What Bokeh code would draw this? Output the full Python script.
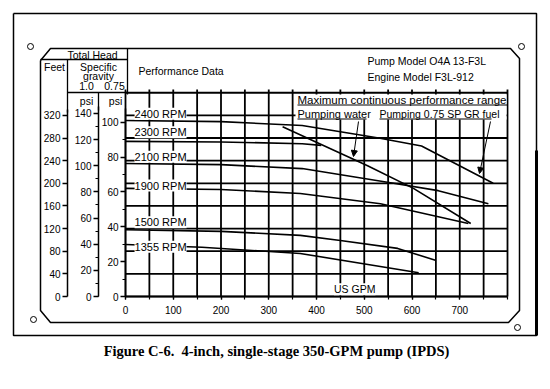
from bokeh.plotting import figure
from bokeh.models import Range1d, LinearAxis, SingleIntervalTicker, FixedTicker, Label, Arrow, NormalHead
from bokeh.core.properties import value
from bokeh.embed import file_html
from bokeh.resources import INLINE

# ---------------- data (US GPM vs total head in feet) ----------------
RPM_LABELS = ["2400 RPM", "2300 RPM", "2100 RPM", "1900 RPM", "1500 RPM", "1355 RPM"]
GPM_2400 = [0, 200, 370, 530, 620, 770]
FT_2400 = [311, 309, 302, 280, 266, 200]
GPM_2300 = [0, 200, 370, 410]
FT_2300 = [274, 273, 270, 267]
GPM_2100 = [0, 200, 370, 555, 655, 760]
FT_2100 = [235, 233, 226, 201, 187, 164]
GPM_1900 = [0, 200, 366, 534, 718]
FT_1900 = [191, 189, 182, 164, 129]
GPM_1500 = [0, 200, 366, 450, 570, 649]
FT_1500 = [118, 115, 108, 99, 85, 64]
GPM_1355 = [0, 160, 366, 614]
FT_1355 = [92, 87, 76, 42]
# maximum continuous performance limit, pumping water
GPM_WATER_LIMIT = [329, 507, 603, 723]
FT_WATER_LIMIT = [300, 231, 191, 129]
# RPM label anchor points (GPM, ft)
RPM_LABEL_GPM = [19, 19, 19, 19, 19, 19]
RPM_LABEL_FT = [323, 290, 247, 196, 131, 88]
# axis ticks
GPM_TICKS = [0, 100, 200, 300, 400, 500, 600, 700]
GPM_GRID = list(range(0, 801, 50))
FT_GRID = list(range(0, 361, 40))
FT_PER_PSI = 2.31
SG_FUEL = 0.75

# ---------------- geometry ----------------
W, H = 542, 381
X0_PX, X_SCALE = 125.0, 0.4775   # px of 0 GPM, px per GPM
Y0_PX, Y_SCALE = 296.0, 0.566    # px of 0 ft, px per ft

def gx(px):
    return (px - X0_PX) / X_SCALE

def fy(py):
    return (Y0_PX - py) / Y_SCALE

x_start, x_end = gx(0), gx(W)
y_start, y_end = fy(H), fy(0)

FONT = value("Liberation Sans")

p = figure(width=W, height=H, x_range=Range1d(x_start, x_end), y_range=Range1d(y_start, y_end),
           output_backend="svg", toolbar_location=None, min_border=0,
           x_axis_location=None, y_axis_location=None,
           background_fill_color="white", border_fill_color="white", outline_line_color=None)
p.grid.visible = False
p.extra_x_ranges = {"px": Range1d(0, W)}
p.extra_y_ranges = {"py": Range1d(H, 0),
                    "psi1": Range1d(y_start / FT_PER_PSI, y_end / FT_PER_PSI),
                    "psi075": Range1d(y_start * SG_FUEL / FT_PER_PSI, y_end * SG_FUEL / FT_PER_PSI)}

def seg(x0, y0, x1, y1, w=1.3):
    p.line(x=[x0, x1], y=[y0, y1], line_color="black", line_width=w,
           x_range_name="px", y_range_name="py")

def ptext(x, y, t, size="10.5px", align="left", bold=False, font=FONT):
    p.text(x=[x], y=[y], text=[t], text_font=font, text_font_size=size, text_align=align,
           text_baseline="middle", text_color="black", text_font_style="bold" if bold else "normal",
           x_range_name="px", y_range_name="py")

# ---------------- grid (50 GPM x 40 ft) as thin filled bars through the data scales ----------------
top_ext = fy(89)
GRID_W_PX = 1.8
p.vbar(x=GPM_GRID, bottom=FT_GRID[0], top=top_ext, width=GRID_W_PX / X_SCALE,
       fill_color="black", line_color=None)
p.hbar(y=FT_GRID, left=GPM_GRID[0], right=GPM_GRID[-1], height=GRID_W_PX / Y_SCALE,
       fill_color="black", line_color=None)

# ---------------- curves ----------------
for gpm, ft in [(GPM_2400, FT_2400), (GPM_2300, FT_2300), (GPM_2100, FT_2100),
                (GPM_1900, FT_1900), (GPM_1500, FT_1500), (GPM_1355, FT_1355),
                (GPM_WATER_LIMIT, FT_WATER_LIMIT)]:
    p.line(x=gpm, y=ft, line_color="black", line_width=1.6)

# ---------------- frames ----------------
p.line(x=[13, 536, 536, 13, 13], y=[13, 13, 335, 335, 13], line_color="black", line_width=1.5,
       x_range_name="px", y_range_name="py")
seg(536, 150, 536, 335, 3)
p.line(x=[40, 50, 510, 519, 519, 508, 50, 40, 40], y=[60, 48, 48, 58, 310, 322, 322, 310, 60],
       line_color="black", line_width=1.5, x_range_name="px", y_range_name="py")
p.scatter(x=[30, 521, 33, 517], y=[46, 46, 319, 327], marker="circle", size=6, fill_color=None,
          line_color="black", line_width=1, x_range_name="px", y_range_name="py")

# header dividers
seg(40, 59, 127, 59)
seg(67, 59, 67, 112)
seg(67, 92, 127, 92)
seg(98, 92, 98, 110)
seg(127, 48, 127, 94)

# ---------------- axes ----------------
def style(ax, tick_out=5, minor_out=3, standoff=2):
    ax.axis_line_color = "black"
    ax.axis_line_width = 1.5
    ax.major_tick_line_color = "black"
    ax.major_tick_line_width = 1.3
    ax.major_tick_in = 0
    ax.major_tick_out = tick_out
    ax.minor_tick_line_color = "black"
    ax.minor_tick_line_width = 1.2
    ax.minor_tick_in = 0
    ax.minor_tick_out = minor_out
    ax.major_label_text_font = "Liberation Sans"
    ax.major_label_text_font_size = "10px"
    ax.major_label_text_color = "black"
    ax.major_label_standoff = standoff

ax_ft = LinearAxis(fixed_location=gx(67), ticker=SingleIntervalTicker(interval=40, num_minor_ticks=0),
                   bounds=(0, 330))
style(ax_ft)
p.add_layout(ax_ft, "left")
ax_p1 = LinearAxis(y_range_name="psi1", fixed_location=gx(98),
                   ticker=SingleIntervalTicker(interval=20, num_minor_ticks=2), bounds=(0, 145))
style(ax_p1)
p.add_layout(ax_p1, "left")
ax_p2 = LinearAxis(y_range_name="psi075", fixed_location=0,
                   ticker=SingleIntervalTicker(interval=20, num_minor_ticks=2), bounds=(0, 108))
style(ax_p2)
p.add_layout(ax_p2, "left")
ax_x = LinearAxis(fixed_location=0, ticker=FixedTicker(ticks=GPM_TICKS, minor_ticks=GPM_GRID),
                  bounds=(0, 800))
style(ax_x, tick_out=3, minor_out=3, standoff=6)
p.add_layout(ax_x, "below")

# ---------------- texts ----------------
ptext(92, 54, "Total Head", align="center")
ptext(54, 66, "Feet", align="center")
ptext(98, 66, "Specific", align="center")
ptext(98, 75, "gravity", align="center")
ptext(86, 85, "1.0", align="center")
ptext(114, 85, "0.75", align="center")
ptext(86, 100, "psi", align="center")
ptext(115, 100, "psi", align="center")
ptext(138, 70, "Performance Data")
ptext(367, 60, "Pump Model O4A 13-F3L", size="10.5px")
ptext(367, 76, "Engine Model F3L-912", size="10.5px")

p.quad(left=[295], right=[506], top=[94], bottom=[119], fill_color="white", line_color=None,
       x_range_name="px", y_range_name="py")
ptext(297, 99, "Maximum continuous performance range", size="11.5px")
seg(297, 104.5, 507, 104.5, 1)
ptext(297, 113, "Pumping water", size="11px")
seg(297, 118.5, 366, 118.5, 1)
ptext(379, 113, "Pumping 0.75 SP GR fuel", size="10.5px")
seg(379, 118.5, 491, 118.5, 1)

for g, f, t in zip(RPM_LABEL_GPM, RPM_LABEL_FT, RPM_LABELS):
    p.add_layout(Label(x=g, y=f, text=t, text_font="Liberation Sans", text_font_size="11px",
                       text_baseline="middle", text_color="black", background_fill_color="white"))

p.add_layout(Label(x=480, y=13, text="US GPM", text_font="Liberation Sans", text_font_size="10.5px",
                   text_baseline="middle", text_align="center", text_color="black",
                   background_fill_color="white"))

p.add_layout(Arrow(end=NormalHead(size=6, fill_color="black", line_color="black"),
                   x_start=gx(358), y_start=fy(121), x_end=gx(353), y_end=fy(156),
                   line_color="black", line_width=1))
p.add_layout(Arrow(end=NormalHead(size=6, fill_color="black", line_color="black"),
                   x_start=gx(490), y_start=fy(121), x_end=gx(479), y_end=fy(173),
                   line_color="black", line_width=1))

ptext(276, 350, "Figure C-6.\u00a0 4-inch, single-stage 350-GPM pump (IPDS)", size="14.5px",
      align="center", bold=True, font=value("Liberation Serif"))

open("out.html", "w").write(file_html(p, INLINE))
